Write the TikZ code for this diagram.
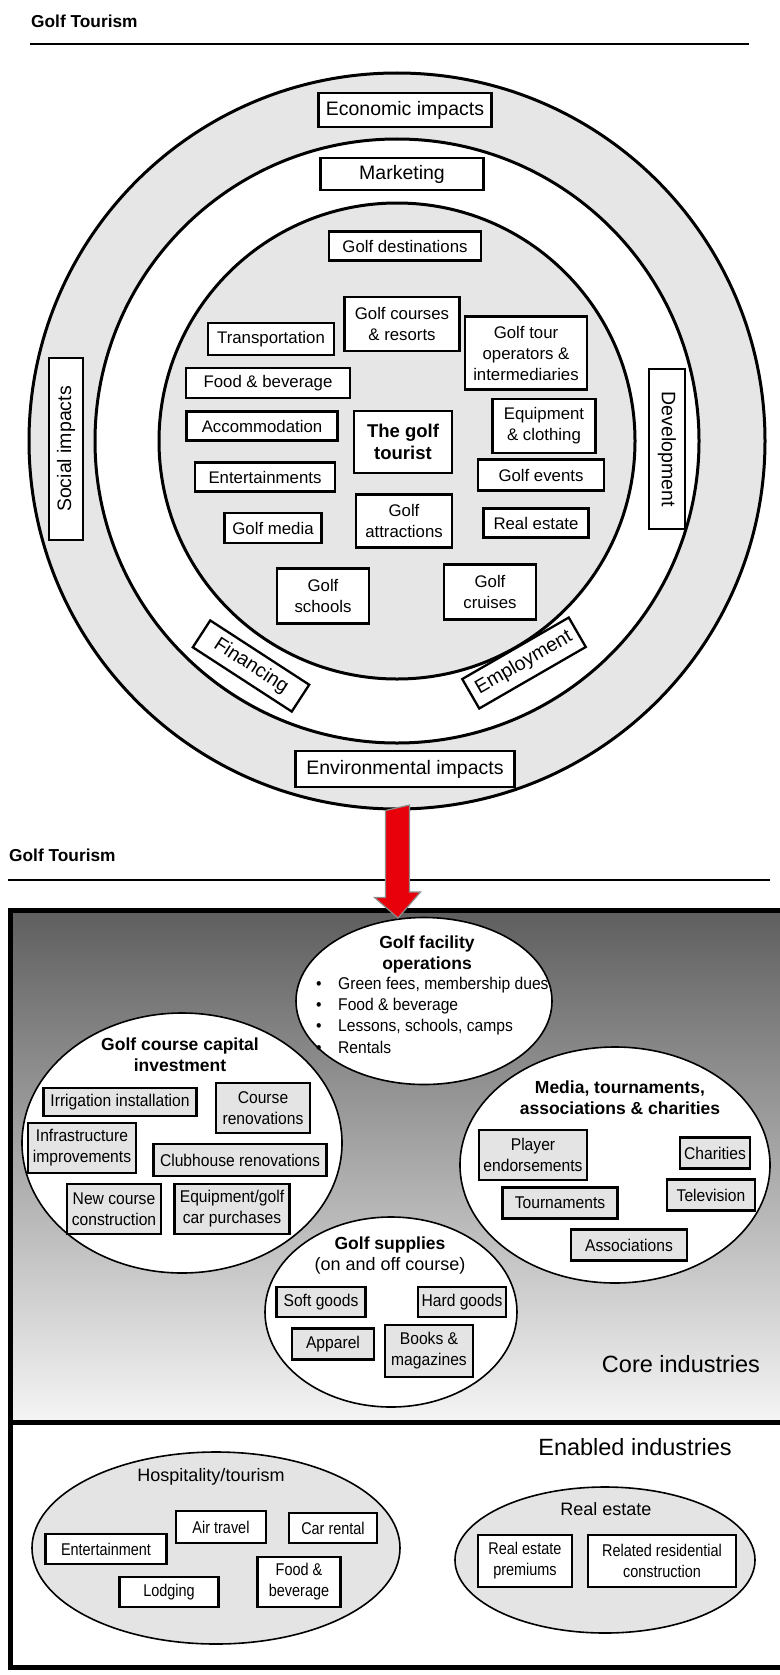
\documentclass[tikz,border=0pt]{standalone}
\usepackage{fontspec}
\setmainfont{Liberation Sans}
\newfontfamily\narrowfont[FakeStretch=0.85]{Liberation Sans}
\newfontfamily\corefont[FakeStretch=0.92]{Liberation Sans}
\usetikzlibrary{shapes.geometric,calc}

\definecolor{ringgray}{HTML}{E6E6E6}
\definecolor{boxgray}{HTML}{E4E4E4}
\definecolor{arrowred}{HTML}{E8000B}

\tikzset{
  lab/.style={draw, line width=2.3pt, fill=white, align=center, inner sep=1pt, font=\fontsize{16.8}{21}\selectfont},
  biglab/.style={lab, font=\fontsize{19.5}{22}\selectfont},
  cbox/.style={draw, line width=2.4pt, fill=boxgray, align=center, inner sep=1pt, font=\corefont\fontsize{17}{21}\selectfont},
  ebox/.style={cbox, fill=white, font=\narrowfont\fontsize{17}{21}\selectfont},
  ell/.style={ellipse, draw, line width=1.6pt, fill=white, inner sep=0pt},
  gell/.style={ell, fill=boxgray},
  ring/.style={circle, draw, line width=3pt, inner sep=0pt},
  ttl/.style={font=\bfseries\fontsize{17.3}{19}\selectfont, anchor=west, inner sep=0pt},
  elltitle/.style={font=\bfseries\fontsize{17.5}{21}\selectfont, align=center, inner sep=0pt},
  bul/.style={font=\corefont\fontsize{17}{21}\selectfont, anchor=base west, inner sep=0pt},
  sect/.style={font=\fontsize{23.5}{26}\selectfont, inner sep=0pt},
  subttl/.style={font=\fontsize{18}{21}\selectfont, inner sep=0pt},
}

\begin{document}
\begin{tikzpicture}[x=1pt,y=-1pt]
\useasboundingbox (0,0) rectangle (779,1675);

% ---------- top figure ----------
\node[ttl] (t1) at (31,21) {Golf Tourism};
\draw[line width=2.5pt] (30,44) -- (749,44);

\node[ring, fill=ringgray, minimum size=736] (outer) at (397,441) {};
\node[ring, fill=white, minimum size=604] (middle) at (397,441) {};
\node[ring, fill=ringgray, minimum size=476] (inner) at (397,441) {};

\node[biglab, minimum width=173, minimum height=34] (econ) at (405,110) {Economic impacts};
\node[biglab, minimum width=163, minimum height=32] (mkt) at (402,174) {Marketing};
\node[lab, minimum width=152, minimum height=29] (dest) at (405,246) {Golf destinations};
\node[lab, minimum width=115, minimum height=54] (courses) at (402,324) {Golf courses\\\& resorts};
\node[lab, minimum width=126, minimum height=32] (transp) at (271,339) {Transportation};
\node[lab, minimum width=122, minimum height=73] (tour) at (526,353) {Golf tour\\operators \&\\intermediaries};
\node[lab, minimum width=164, minimum height=30] (food) at (268,383) {Food \& beverage};
\node[lab, minimum width=151, minimum height=29] (accom) at (262,426) {Accommodation};
\node[lab, minimum width=98, minimum height=62, font=\bfseries\fontsize{18.5}{22}\selectfont] (tourist) at (403,442) {The golf\\tourist};
\node[lab, minimum width=103, minimum height=54] (equip) at (544,426) {Equipment\\\& clothing};
\node[lab, minimum width=140, minimum height=29] (ent) at (265,477) {Entertainments};
\node[lab, minimum width=126, minimum height=31] (events) at (541,475) {Golf events};
\node[lab, minimum width=97, minimum height=30] (gmedia) at (273,528) {Golf media};
\node[lab, minimum width=96, minimum height=53] (attr) at (404,521) {Golf\\attractions};
\node[lab, minimum width=105, minimum height=29] (realest) at (536,523) {Real estate};
\node[lab, minimum width=92, minimum height=55] (schools) at (323,596) {Golf\\schools};
\node[lab, minimum width=92, minimum height=55] (cruises) at (490,592) {Golf\\cruises};
\node[biglab, minimum width=182, minimum height=34, rotate=90] (social) at (66,449) {Social impacts};
\node[biglab, minimum width=160, minimum height=36, rotate=-90] (dev) at (667,449) {Development};
\node[biglab, minimum width=118, minimum height=32, rotate=-33] (fin) at (251,666) {Financing};
\node[biglab, minimum width=123, minimum height=34, rotate=30] (emp) at (524,663) {Employment};
\node[biglab, minimum width=219, minimum height=36] (env) at (405,769) {Environmental impacts};

% ---------- second title ----------
\node[ttl] (t2) at (9,855) {Golf Tourism};
\draw[line width=2pt] (8,880) -- (770,880);

% ---------- core / enabled frame ----------
\shade[top color=black!63, bottom color=black!4] (10,910) rectangle (800,1422);
\draw[line width=5pt] (800,910) -- (10,910) -- (10,1667) -- (800,1667);
\draw[line width=5pt] (10,1422) -- (800,1422);

% Golf facility operations
\node[ell, minimum width=256, minimum height=167] (gfo) at (424,1001) {};
\node[elltitle] (gfot) at (427,954) {Golf facility\\operations};
\node[bul] (b1) at (316,989) {\makebox[22pt][l]{\textbullet}Green fees, membership dues};
\node[bul] (b2) at (316,1010) {\makebox[22pt][l]{\textbullet}Food \& beverage};
\node[bul] (b3) at (316,1031) {\makebox[22pt][l]{\textbullet}Lessons, schools, camps};
\node[bul] (b4) at (316,1053) {\makebox[22pt][l]{\textbullet}Rentals};

% Golf course capital investment
\node[ell, minimum width=320, minimum height=260] (gcci) at (182,1143) {};
\node[elltitle] (gccit) at (180,1055) {Golf course capital\\investment};
\node[cbox, minimum width=153, minimum height=28] (irr) at (120,1102) {Irrigation installation};
\node[cbox, minimum width=94, minimum height=50] (crs) at (263,1108) {Course\\renovations};
\node[cbox, minimum width=108, minimum height=50] (infra) at (82,1148) {Infrastructure\\improvements};
\node[cbox, minimum width=173, minimum height=32] (club) at (240,1160) {Clubhouse renovations};
\node[cbox, minimum width=94, minimum height=50] (newc) at (114,1209) {New course\\construction};
\node[cbox, minimum width=115, minimum height=50] (eqp) at (232,1209) {Equipment/golf\\car purchases};

% Media, tournaments ...
\node[ell, minimum width=310, minimum height=236] (mta) at (615,1165) {};
\node[elltitle] (mtat) at (620,1098) {Media, tournaments,\\associations \& charities};
\node[cbox, minimum width=108, minimum height=50] (player) at (533,1155) {Player\\endorsements};
\node[cbox, minimum width=70, minimum height=31] (charit) at (715,1153) {Charities};
\node[cbox, minimum width=88, minimum height=31] (tv) at (711,1195) {Television};
\node[cbox, minimum width=115, minimum height=31] (tourn) at (560,1203) {Tournaments};
\node[cbox, minimum width=116, minimum height=31] (assoc) at (629,1245) {Associations};

% Golf supplies
\node[ell, minimum width=252, minimum height=190] (sup) at (391,1312) {};
\node[subttl, font=\fontsize{18}{21}\selectfont, align=center] (supt) at (390,1256) {{\bfseries\fontsize{17.5}{21}\selectfont Golf supplies}\\(on and off course)};
\node[cbox, minimum width=89, minimum height=30] (soft) at (321,1302) {Soft goods};
\node[cbox, minimum width=88, minimum height=30] (hard) at (462,1302) {Hard goods};
\node[cbox, minimum width=82, minimum height=31] (appar) at (333,1344) {Apparel};
\node[cbox, minimum width=88, minimum height=52] (books) at (429,1351) {Books \&\\magazines};

\node[sect] (core) at (681,1364) {Core industries};

% ---------- enabled industries ----------
\node[sect] (enab) at (635,1447) {Enabled industries};

\node[gell, minimum width=368, minimum height=192] (hosp) at (216,1548) {};
\node[subttl] (hospt) at (211,1477) {Hospitality/tourism};
\node[ebox, minimum width=121, minimum height=30] (ent2) at (106,1549) {Entertainment};
\node[ebox, minimum width=90, minimum height=32] (air) at (221,1527) {Air travel};
\node[ebox, minimum width=88, minimum height=30] (car) at (333,1528) {Car rental};
\node[ebox, minimum width=99, minimum height=30] (lodg) at (169,1592) {Lodging};
\node[ebox, minimum width=83, minimum height=50] (fb2) at (299,1582) {Food \&\\beverage};

\node[gell, minimum width=300, minimum height=146] (reel) at (605,1560) {};
\node[subttl] (reelt) at (606,1509) {Real estate};
\node[ebox, minimum width=94, minimum height=52] (rep) at (525,1561) {Real estate\\premiums};
\node[ebox, minimum width=148, minimum height=52] (rrc) at (662,1561) {Related residential\\construction};

% ---------- red arrow ----------
\coordinate (atip) at (398,918);
\draw[fill=arrowred, draw=black!45, line width=1.2pt, line join=miter]
  ([xshift=-11.5pt]outer.south) -- ++(0,87) -- ++(-11,0) -- (atip)
  -- ++(22.5,-26) -- ++(-11,0) -- ++(0,-87) -- cycle;
\end{tikzpicture}
\end{document}
